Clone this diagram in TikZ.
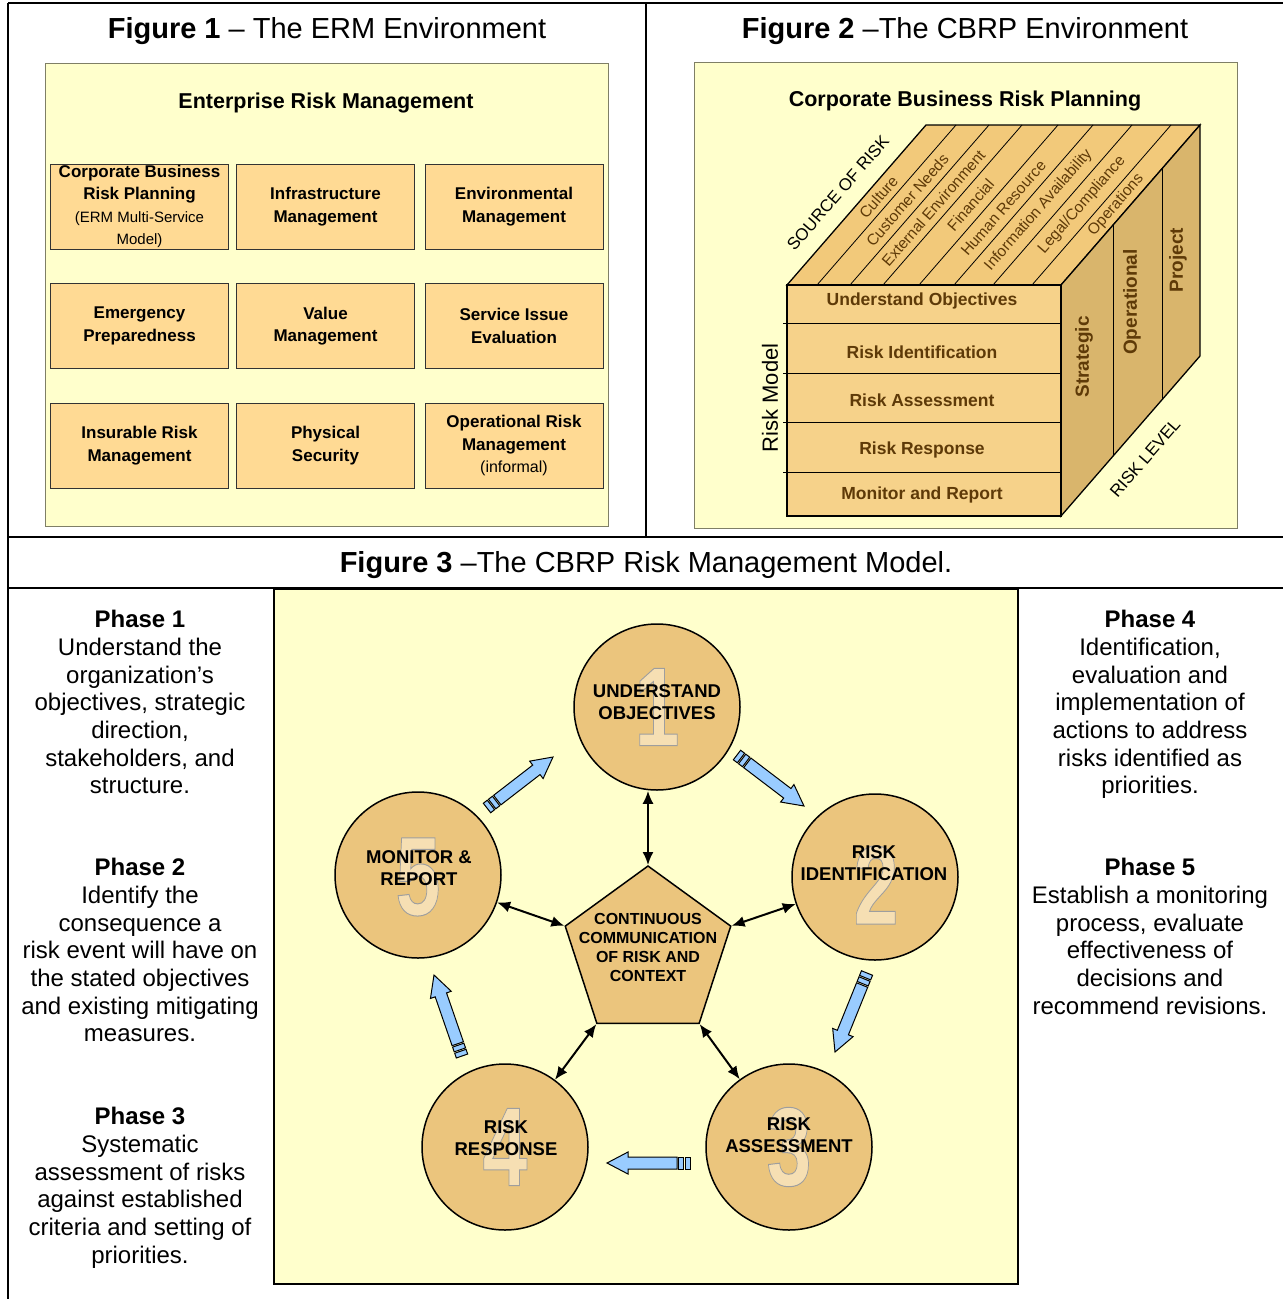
\documentclass[tikz,border=0pt]{standalone}
\usepackage{fontspec}
\setmainfont{Liberation Sans}
\usepackage{graphicx}
\usetikzlibrary{arrows.meta,shapes.geometric,calc}

\definecolor{paper}{HTML}{FFFFCC}
\definecolor{boxtan}{HTML}{FFDA94}
\definecolor{disc}{HTML}{EBC57D}
\definecolor{numtint}{HTML}{F6DFB3}
\definecolor{flow}{HTML}{99CCFF}
\definecolor{cubefront}{HTML}{F6D28A}
\definecolor{cubetop}{HTML}{F2C97A}
\definecolor{cubeside}{HTML}{D9B56C}
\definecolor{cubetext}{HTML}{5E3A08}
\definecolor{panelline}{HTML}{7F7F66}

\newcommand{\fs}[2]{\fontsize{#1}{#2}\selectfont}
% outlined watermark digit
\newcommand{\bignum}[1]{\scalebox{0.72}[1]{%
  \special{pdf:literal direct 2 Tr 0.62 G 1 w}#1\special{pdf:literal direct 0 Tr}}}

% block arrow from tail #1 to tip #2, with two bands at the tail
\newcommand{\flowarrow}[2]{%
  \filldraw[flowstyle]
    ($(#1)!13pt!(#2)!6pt!90:(#2)$) -- ($(#2)!21pt!(#1)!6pt!90:(#2)$) --
    ($(#2)!21pt!(#1)!11pt!90:(#2)$) -- (#2) --
    ($(#2)!21pt!(#1)!11pt!-90:(#2)$) -- ($(#2)!21pt!(#1)!6pt!-90:(#2)$) --
    ($(#1)!13pt!(#2)!6pt!-90:(#2)$) -- cycle;
  \filldraw[flowstyle]
    ($(#1)!0pt!(#2)!6pt!90:(#2)$) -- ($(#1)!5pt!(#2)!6pt!90:(#2)$) --
    ($(#1)!5pt!(#2)!6pt!-90:(#2)$) -- ($(#1)!0pt!(#2)!6pt!-90:(#2)$) -- cycle;
  \filldraw[flowstyle]
    ($(#1)!6.5pt!(#2)!6pt!90:(#2)$) -- ($(#1)!11.5pt!(#2)!6pt!90:(#2)$) --
    ($(#1)!11.5pt!(#2)!6pt!-90:(#2)$) -- ($(#1)!6.5pt!(#2)!6pt!-90:(#2)$) -- cycle;
}

\begin{document}
\begin{tikzpicture}[x=1pt,y=-1pt,>={Latex[length=13pt,width=11pt]},
    frame/.style={line width=2.5pt},
    panel/.style={draw=panelline,fill=paper,line width=1pt},
    title/.style={font=\fs{29}{34}},
    heading/.style={font=\fs{21.5}{26}\bfseries},
    erm/.style={draw=black!80,fill=boxtan,minimum width=178pt,minimum height=85pt,
      inner sep=0pt,align=center,font=\fs{17}{22.5}\bfseries},
    cubeedge/.style={draw=black,line width=1.3pt},
    level/.style={text=cubetext,font=\fs{17.5}{20}\bfseries},
    source/.style={text=cubetext,rotate=49,font=\fs{15.5}{18}},
    tier/.style={text=cubetext,rotate=90,font=\fs{19}{22}\bfseries},
    phase/.style={circle,draw,line width=1.5pt,fill=disc,minimum size=166pt,inner sep=0pt},
    numeral/.style={text=numtint,font=\fs{112}{112}\bfseries,inner sep=0pt},
    phasetext/.style={align=center,font=\fs{18.5}{22}\bfseries},
    hub/.style={regular polygon,regular polygon sides=5,draw,line width=1.5pt,fill=disc,
      minimum size=174pt,inner sep=0pt},
    link/.style={<->,line width=2pt},
    flowstyle/.style={fill=flow,draw=black,line width=1pt},
    note/.style={align=center,anchor=north,inner sep=0pt,font=\fs{24}{27.7}}]

\useasboundingbox (0,0) rectangle (1283,1299);

%% frame
\draw[frame] (8,3) -- (1283,3);
\draw[frame] (8,3) -- (8,1299);
\draw[frame] (646,3) -- (646,537);
\draw[frame] (8,537) -- (1283,537);
\draw[frame] (8,588) -- (1283,588);

\node[title] (t1) at (327,31) {\textbf{Figure 1} – The ERM Environment};
\node[title] (t2) at (965,31) {\textbf{Figure 2} –The CBRP Environment};
\node[title] (t3) at (646,565) {\textbf{Figure 3} –The CBRP Risk Management Model.};

%% Figure 1
\draw[panel] (45,63) rectangle (608,526);
\node[heading] (ermtitle) at (326,103) {Enterprise Risk Management};
\node[erm] (cbrp)     at (139.5,206.5) {Corporate Business\\Risk Planning\\
  {\fs{15}{22.5}\mdseries (ERM Multi-Service}\\{\fs{15}{22.5}\mdseries Model)}};
\node[erm] (infra)    at (325.5,206.5) {Infrastructure\\Management};
\node[erm] (env)      at (514,206.5)   {Environmental\\Management};
\node[erm] (emerg)    at (139.5,326)   {Emergency\\Preparedness};
\node[erm] (value)    at (325.5,326)   {Value\\Management};
\node[erm] (service)  at (514,326)     {Service Issue\\Evaluation};
\node[erm] (insure)   at (139.5,445.5) {Insurable Risk\\Management};
\node[erm] (physical) at (325.5,445.5) {Physical\\Security};
\node[erm] (oprisk)   at (514,445.5)   {Operational Risk\\Management\\
  {\fs{16}{23}\mdseries (informal)}};

%% Figure 2
\draw[panel] (694,62) rectangle (1237,528);
\node[heading] (cbrptitle) at (965,101) {Corporate Business Risk Planning};

\coordinate (f1) at (787,285);
\coordinate (f2) at (1061,285);
\coordinate (f3) at (1061,516);
\coordinate (f4) at (787,516);
\coordinate (b1) at (926,125);
\coordinate (b2) at (1200,125);
\coordinate (b3) at (1200,356);

\filldraw[cubeedge,fill=cubetop] (f1) -- (f2) -- (b2) -- (b1) -- cycle;
\filldraw[cubeedge,fill=cubeside] (f2) -- (b2) -- (b3) -- (f3) -- cycle;
\filldraw[cubeedge,fill=cubefront] (f1) rectangle (f3);
\foreach \x in {817,850,883,919,954,993,1032}
  \draw[line width=.8pt] (\x,285) -- ++(139,-160);
\foreach \t in {0.38,0.73}
  \draw[line width=.8pt] ($(f2)!\t!(b2)$) -- ($(f3)!\t!(b3)$);
\foreach \y in {323,373,422,472}
  \draw[line width=.8pt] (783,\y) -- (1061,\y);

\node[level] (uo) at (922,301) {Understand Objectives};
\node[level] (ri) at (922,352) {Risk Identification};
\node[level] (ra) at (922,400) {Risk Assessment};
\node[level] (rr) at (922,450) {Risk Response};
\node[level] (mr) at (922,495) {Monitor and Report};

\foreach \lab/\xf/\yy in {Culture/802/197, Customer Needs/833.5/200,
    External Environment/866.5/208, Financial/901/205, Human Resource/936.5/208,
    Information Availability/973.5/210, {Legal/Compliance}/1012.5/205,
    Operations/1046.5/205}
  \node[source] at ({\xf+(285-\yy)*0.869},\yy) {\lab};

\node[tier] (strat) at (1084,357) {Strategic};
\node[tier] (oper)  at (1132,302) {Operational};
\node[tier] (proj)  at (1178,260) {Project};

\node[rotate=49,font=\fs{17}{20}] (sor) at (838,193) {SOURCE OF RISK};
\node[rotate=49,font=\fs{17}{20}] (rl) at (1145,458) {RISK LEVEL};
\node[rotate=90,font=\fs{22}{26}] (rm) at (770,398) {Risk Model};

%% Figure 3
\draw[line width=2pt,fill=paper] (274,589) rectangle (1018,1284);

\node[note] (p1) at (140,610) {\textbf{Phase 1}\\Understand the\\organization’s\\
  objectives, strategic\\direction,\\stakeholders, and\\structure.};
\node[note] (p2) at (140,858) {\textbf{Phase 2}\\Identify the\\consequence a\\
  risk event will have on\\the stated objectives\\and existing mitigating\\measures.};
\node[note] (p3) at (140,1107) {\textbf{Phase 3}\\Systematic\\assessment of risks\\
  against established\\criteria and setting of\\priorities.};
\node[note] (p4) at (1150,610) {\textbf{Phase 4}\\Identification,\\evaluation and\\
  implementation of\\actions to address\\risks identified as\\priorities.};
\node[note] (p5) at (1150,858) {\textbf{Phase 5}\\Establish a monitoring\\
  process, evaluate\\effectiveness of\\decisions and\\recommend revisions.};

\node[phase] (c1) at (657,707) {};
\node[phase] (c2) at (875,877) {};
\node[phase] (c3) at (789,1147) {};
\node[phase] (c4) at (505,1147) {};
\node[phase] (c5) at (418,875) {};
\node[numeral] (n1) at (c1) {\bignum{1}};
\node[numeral] (n2) at (876,885) {\bignum{2}};
\node[numeral] (n3) at (c3) {\bignum{3}};
\node[numeral] (n4) at (c4) {\bignum{4}};
\node[numeral] (n5) at (418,877) {\bignum{5}};
\node[phasetext] (l1) at (657,702) {UNDERSTAND\\OBJECTIVES};
\node[phasetext] (l2) at (874,863) {RISK\\IDENTIFICATION};
\node[phasetext] (l3) at (789,1135) {RISK\\ASSESSMENT};
\node[phasetext] (l4) at (506,1138) {RISK\\RESPONSE};
\node[phasetext] (l5) at (419,868) {MONITOR \&\\REPORT};

\node[hub] (hub) at (648,953) {};
\node[align=center,font=\fs{16}{19}\bfseries] (hubtext) at (648,947)
  {CONTINUOUS\\COMMUNICATION\\OF RISK AND\\CONTEXT};

\draw[link] (hub.corner 1) -- (hub.corner 1 |- c1.south);
\draw[link] (hub.corner 2) -- (c5);
\draw[link] (hub.corner 5) -- (c2);
\draw[link] (hub.corner 3) -- (c4);
\draw[link] (hub.corner 4) -- (c3);

\coordinate (t51) at (487,808);  \coordinate (h51) at (553,757);
\coordinate (t12) at (737,755);  \coordinate (h12) at (804,806);
\coordinate (t23) at (867,973);  \coordinate (h23) at (835,1052);
\coordinate (t34) at (690,1163); \coordinate (h34) at (607,1163);
\coordinate (t45) at (462,1056); \coordinate (h45) at (434,975);
\flowarrow{t51}{h51}
\flowarrow{t12}{h12}
\flowarrow{t23}{h23}
\flowarrow{t34}{h34}
\flowarrow{t45}{h45}
\end{tikzpicture}
\end{document}
